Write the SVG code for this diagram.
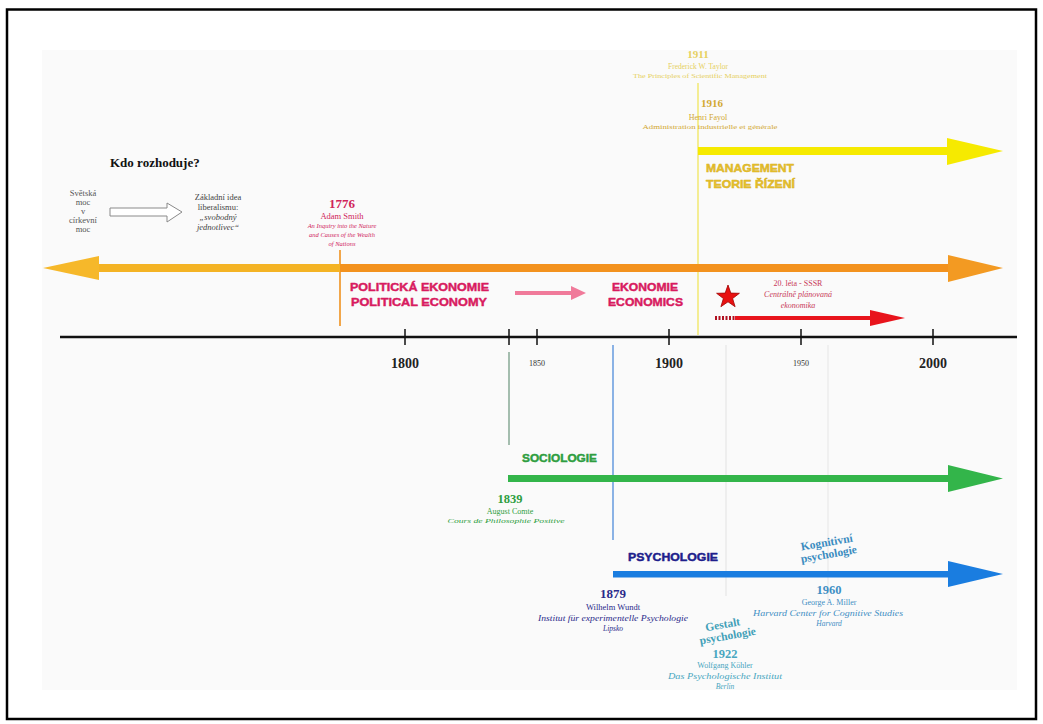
<svg xmlns="http://www.w3.org/2000/svg" width="1043" height="724" viewBox="0 0 1043 724">
<style>
.serif{font-family:"Liberation Serif","DejaVu Serif",serif}
.heavy{font-family:"Liberation Sans","DejaVu Sans",sans-serif;font-weight:900;stroke-width:0.45;stroke-linejoin:round}
.b{font-weight:bold}
.i{font-style:italic}
.mid{text-anchor:middle}
.tick{stroke:#111;stroke-width:1.5}
.yr{font-family:"Liberation Serif","DejaVu Serif",serif;font-weight:bold;font-size:14px;fill:#222;text-anchor:middle}
.yrs{font-family:"Liberation Serif","DejaVu Serif",serif;font-size:8px;fill:#333;text-anchor:middle}
</style>
<rect x="0" y="0" width="1043" height="724" fill="#ffffff"/>
<rect x="7" y="9.5" width="1029" height="709.5" fill="#ffffff" stroke="#000" stroke-width="2.5"/>
<rect x="42" y="50" width="975" height="640" fill="#fafafa"/>

<g id="guides">
<line x1="698" y1="83" x2="698" y2="335" stroke="#f3ea7a" stroke-width="1.6"/>
<line x1="340" y1="250" x2="340" y2="326" stroke="#f1a64a" stroke-width="2"/>
<line x1="509" y1="352" x2="509" y2="445" stroke="#8fae9c" stroke-width="1.6"/>
<line x1="613" y1="345" x2="613" y2="540" stroke="#6fa0e0" stroke-width="1.6"/>
<line x1="726" y1="345" x2="726" y2="596" stroke="#e2e2e2" stroke-width="1"/>
<line x1="828" y1="345" x2="828" y2="600" stroke="#e6e6e6" stroke-width="1"/>
</g>

<g id="axis">
<line x1="60" y1="337" x2="1017" y2="337" stroke="#111" stroke-width="2.5"/>
<line class="tick" x1="405" y1="329" x2="405" y2="345"/>
<line class="tick" x1="509" y1="329" x2="509" y2="345"/>
<line class="tick" x1="537" y1="329" x2="537" y2="345"/>
<line class="tick" x1="669" y1="329" x2="669" y2="345"/>
<line class="tick" x1="801" y1="329" x2="801" y2="345"/>
<line class="tick" x1="933" y1="329" x2="933" y2="345"/>
<text class="yr" x="405" y="368">1800</text>
<text class="yrs" x="537" y="366">1850</text>
<text class="yr" x="669" y="368">1900</text>
<text class="yrs" x="801" y="366">1950</text>
<text class="yr" x="933" y="368">2000</text>
</g>

<g id="connectors">
<rect x="698" y="147" width="252" height="8" fill="#f6ea00"/>
<polygon points="947,138 1003,151 947,165" fill="#f6ea00"/>
<rect x="96" y="264" width="246" height="8" fill="#f4b324"/>
<polygon points="99,256 43,268 99,280" fill="#f6b82a"/>
<rect x="340" y="264" width="610" height="8" fill="#f3921e"/>
<polygon points="948,255 1003,268 948,282" fill="#f39a22"/>
<line x1="515" y1="293" x2="574" y2="293" stroke="#f07a9a" stroke-width="4"/>
<polygon points="571,286 586,293 571,300" fill="#f07a9a"/>
<line x1="715" y1="318" x2="735" y2="318" stroke="#b01020" stroke-width="4" stroke-dasharray="2,1.5"/>
<line x1="735" y1="318" x2="872" y2="318" stroke="#e8141c" stroke-width="4"/>
<polygon points="870,310 905,318 870,326" fill="#e8141c"/>
<rect x="508" y="475" width="442" height="7" fill="#33b54a"/>
<polygon points="948,465 1003,478.5 948,492" fill="#33b54a"/>
<rect x="613" y="571" width="337" height="6.5" fill="#1a7de0"/>
<polygon points="948,561 1003,574 948,587" fill="#1a7de0"/>
<path d="M110,208 H167 V203 L182,212 L167,222 V216 H110 Z" fill="#ffffff" stroke="#8a8a8a" stroke-width="1"/>
</g>

<g id="node-question" class="serif">
<text x="110" y="167" font-size="13" class="b" fill="#111">Kdo rozhoduje?</text>
<g font-size="8.5" fill="#555" class="mid">
<text x="83" y="196">Světská</text>
<text x="83" y="205">moc</text>
<text x="83" y="214">v</text>
<text x="83" y="223">církevní</text>
<text x="83" y="232">moc</text>
</g>
</g>

<g id="node-liberalism" class="serif mid" font-size="8.5" fill="#444">
<text x="218" y="200">Základní idea</text>
<text x="218" y="210">liberalismu:</text>
<text x="218" y="220" class="i">„svobodný</text>
<text x="218" y="230" class="i">jednotlivec“</text>
</g>

<g id="node-1776" class="serif mid" fill="#d0245a">
<text x="342" y="208" font-size="13" class="b">1776</text>
<text x="342" y="219" font-size="8.5">Adam Smith</text>
<text x="342" y="228" font-size="6.5" class="i">An Inquiry into the Nature</text>
<text x="342" y="237" font-size="6.5" class="i">and Causes of the Wealth</text>
<text x="342" y="246" font-size="6.5" class="i">of Nations</text>
</g>

<g id="node-political-economy" class="heavy" fill="#d81b60" stroke="#d81b60" font-size="11.5">
<text x="350" y="291" textLength="139" lengthAdjust="spacingAndGlyphs">POLITICKÁ EKONOMIE</text>
<text x="351" y="306" textLength="136" lengthAdjust="spacingAndGlyphs">POLITICAL ECONOMY</text>
</g>

<g id="node-economics" class="heavy" fill="#d81b60" stroke="#d81b60" font-size="11.5">
<text x="612" y="291" textLength="66" lengthAdjust="spacingAndGlyphs">EKONOMIE</text>
<text x="608" y="306" textLength="75" lengthAdjust="spacingAndGlyphs">ECONOMICS</text>
</g>

<g id="node-ussr">
<polygon points="728,285 730.8,293.1 739.4,293.3 732.6,298.5 735.1,306.7 728,301.8 720.9,306.7 723.4,298.5 716.6,293.3 725.2,293.1" fill="#e81010" stroke="#a00000" stroke-width="0.8"/>
<g class="serif mid" fill="#c83858" font-size="8">
<text x="798" y="286">20. léta - SSSR</text>
<text x="798" y="297" class="i">Centrálně plánovaná</text>
<text x="798" y="308" class="i">ekonomika</text>
</g>
</g>

<g id="node-1911" class="serif mid" fill="#e6d060">
<text x="698" y="58" font-size="11" class="b">1911</text>
<text x="698" y="69" font-size="7.5">Frederick W. Taylor</text>
<text x="700" y="78" font-size="6.5" textLength="134" lengthAdjust="spacingAndGlyphs">The Principles of Scientific Management</text>
</g>

<g id="node-1916" class="serif mid" fill="#d2a832">
<text x="712" y="107" font-size="11" class="b">1916</text>
<text x="708" y="120" font-size="8">Henri Fayol</text>
<text x="710" y="129" font-size="6.5" textLength="135" lengthAdjust="spacingAndGlyphs">Administration industrielle et générale</text>
</g>

<g id="node-management" class="heavy" fill="#e6c02c" stroke="#d8b020" font-size="11">
<text x="706" y="172" textLength="88" lengthAdjust="spacingAndGlyphs">MANAGEMENT</text>
<text x="706" y="188" textLength="89" lengthAdjust="spacingAndGlyphs">TEORIE ŘÍZENÍ</text>
</g>

<g id="node-sociology">
<text class="heavy" x="522" y="462" font-size="11" fill="#2e9e40" stroke="#2e9e40" textLength="75" lengthAdjust="spacingAndGlyphs">SOCIOLOGIE</text>
<g class="serif mid" fill="#2e9e40">
<text x="510" y="503" font-size="12.5" class="b">1839</text>
<text x="510" y="514" font-size="8">August Comte</text>
<text x="506" y="523" font-size="7" class="i" textLength="117" lengthAdjust="spacingAndGlyphs">Cours de Philosophie Positive</text>
</g>
</g>

<g id="node-psychology">
<text class="heavy" x="628" y="561" font-size="11" fill="#1e1e8c" stroke="#1e1e8c" textLength="90" lengthAdjust="spacingAndGlyphs">PSYCHOLOGIE</text>
<g class="serif mid" fill="#2a2a8a">
<text x="613" y="598" font-size="13" class="b">1879</text>
<text x="613" y="610" font-size="8.5">Wilhelm Wundt</text>
<text x="613" y="621" font-size="7.5" class="i" textLength="150" lengthAdjust="spacingAndGlyphs">Institut für experimentelle Psychologie</text>
<text x="613" y="631" font-size="7.5" class="i">Lipsko</text>
</g>
</g>

<g id="node-cognitive" class="serif mid">
<g transform="rotate(-10 828 550)" fill="#3a8cc0" font-size="11.5" class="b">
<text x="828" y="546">Kognitivní</text>
<text x="828" y="558">psychologie</text>
</g>
<g fill="#3f8fc4">
<text x="829" y="594" font-size="12.5" class="b">1960</text>
<text x="829" y="605" font-size="8">George A. Miller</text>
<text x="828" y="616" font-size="7.5" class="i" textLength="150" lengthAdjust="spacingAndGlyphs">Harvard Center for Cognitive Studies</text>
<text x="829" y="626" font-size="7.5" class="i">Harvard</text>
</g>
</g>

<g id="node-gestalt" class="serif mid">
<g transform="rotate(-10 725 632)" fill="#42a0b8" font-size="11.5" class="b">
<text x="724" y="628">Gestalt</text>
<text x="727" y="640">psychologie</text>
</g>
<g fill="#48a6c0">
<text x="725" y="658" font-size="12.5" class="b">1922</text>
<text x="725" y="668" font-size="8">Wolfgang Köhler</text>
<text x="725" y="679" font-size="7.5" class="i" textLength="114" lengthAdjust="spacingAndGlyphs">Das Psychologische Institut</text>
<text x="725" y="689" font-size="7.5" class="i">Berlin</text>
</g>
</g>
</svg>
